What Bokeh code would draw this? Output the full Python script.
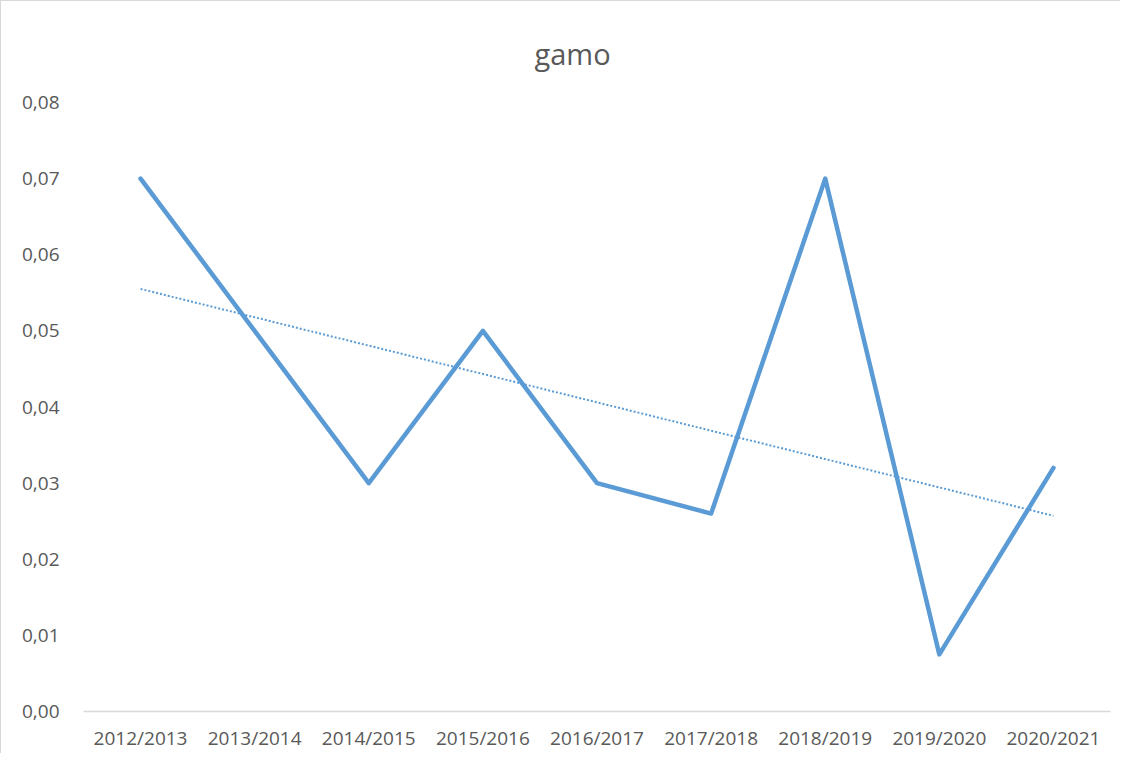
import numpy as np
from bokeh.plotting import figure
from bokeh.models import FixedTicker, Title
from bokeh.embed import file_html
from bokeh.resources import INLINE

# ---- data ----
seasons = ["2012/2013", "2013/2014", "2014/2015", "2015/2016", "2016/2017",
           "2017/2018", "2018/2019", "2019/2020", "2020/2021"]
gamo = [0.070, 0.050, 0.030, 0.050, 0.030, 0.026, 0.070, 0.0075, 0.032]
y_ticks = [0.00, 0.01, 0.02, 0.03, 0.04, 0.05, 0.06, 0.07, 0.08]
y_tick_labels = ["0,00", "0,01", "0,02", "0,03", "0,04", "0,05", "0,06", "0,07", "0,08"]
title_text = "gamo"

# linear trend (least squares over season index)
idx = np.arange(len(gamo))
slope, intercept = np.polyfit(idx, gamo, 1)
trend = [float(intercept + slope * i) for i in idx]

FONT = "Open Sans"
GRAY = "#595959"
BLUE = "#5b9bd5"

p = figure(x_range=seasons, y_range=(0, 0.08),
           frame_width=1027, frame_height=609,
           min_border_left=82, min_border_right=10,
           min_border_top=101, min_border_bottom=26,
           output_backend="svg", toolbar_location=None,
           background_fill_color="white", border_fill_color="white")
p.x_range.range_padding = 0

p.title = None
t = Title(text=title_text, align="left", offset=451, standoff=60,
          text_font=FONT, text_font_size="29px", text_color=GRAY,
          text_font_style="normal")
p.add_layout(t, "above")

p.outline_line_color = None
p.xgrid.grid_line_color = None
p.ygrid.grid_line_color = None

# y axis
p.yaxis.ticker = FixedTicker(ticks=y_ticks)
p.yaxis.major_label_overrides = {v: s for v, s in zip(y_ticks, y_tick_labels)}
p.yaxis.axis_line_color = None
p.yaxis.major_tick_line_color = None
p.yaxis.minor_tick_line_color = None
p.yaxis.major_label_text_font = FONT
p.yaxis.major_label_text_font_size = "19px"
p.yaxis.major_label_text_color = GRAY
p.yaxis.major_label_standoff = 18

# x axis
p.xaxis.axis_line_color = "#d9d9d9"
p.xaxis.axis_line_width = 1.5
p.xaxis.major_tick_line_color = None
p.xaxis.minor_tick_line_color = None
p.xaxis.major_label_text_font = FONT
p.xaxis.major_label_text_font_size = "19px"
p.xaxis.major_label_text_color = GRAY
p.xaxis.major_label_standoff = 7

# series
p.line(seasons, gamo, line_color=BLUE, line_width=4.5, line_join="round", line_cap="round")
p.line(seasons, trend, line_color=BLUE, line_width=2, line_dash="2 2")

p.styles = {"border-left": "1px solid #d9d9d9", "border-top": "1px solid #d9d9d9"}

open("out.html", "w").write(file_html(p, INLINE))
